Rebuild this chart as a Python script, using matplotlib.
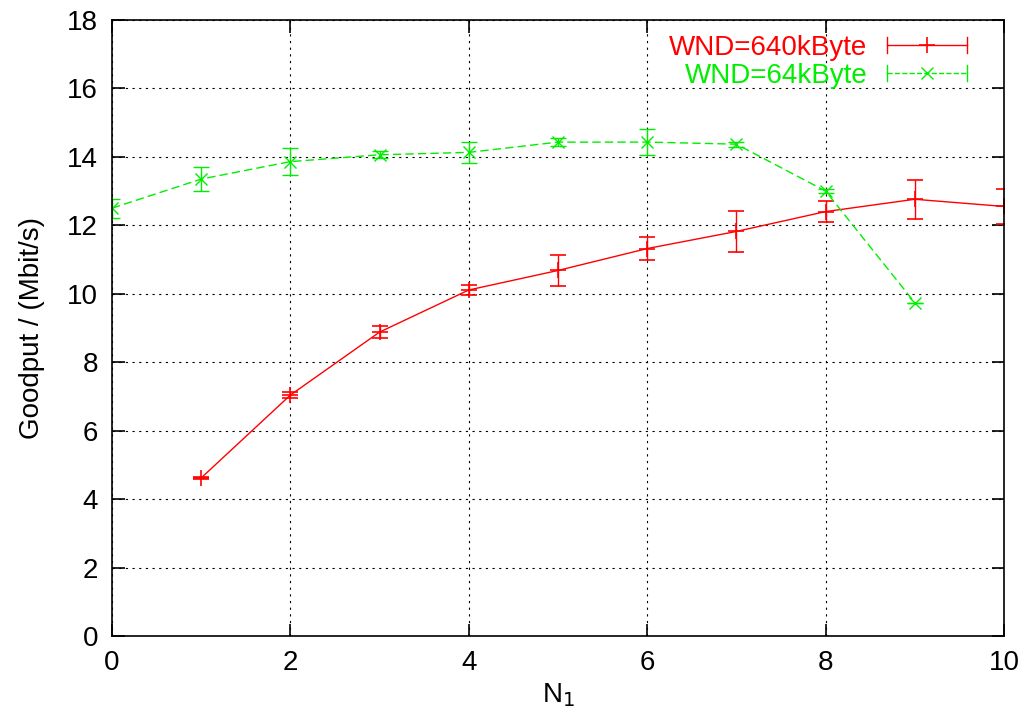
import matplotlib
matplotlib.use("Agg")
import matplotlib.pyplot as plt
from matplotlib.legend_handler import HandlerBase
from matplotlib.lines import Line2D

# Goodput vs N1 for two window sizes
n1_640 = [1, 2, 3, 4, 5, 6, 7, 8, 9, 10]
goodput_640 = [4.62, 7.04, 8.88, 10.11, 10.68, 11.32, 11.82, 12.40, 12.76, 12.55]
err_640 = [0.03, 0.08, 0.18, 0.16, 0.44, 0.34, 0.60, 0.30, 0.57, 0.50]

n1_64 = [0, 1, 2, 3, 4, 5, 6, 7, 8, 9]
goodput_64 = [12.50, 13.35, 13.86, 14.06, 14.13, 14.43, 14.43, 14.37, 13.00, 9.74]
err_64 = [0.28, 0.34, 0.40, 0.10, 0.30, 0.12, 0.37, 0.07, 0.05, 0.0]

plt.rcParams["font.family"] = ["Liberation Sans", "DejaVu Sans"]


class HorizontalErrorHandler(HandlerBase):
    """gnuplot-like key sample: horizontal bar with end caps and marker in middle."""

    def create_artists(self, legend, orig_handle, xdescent, ydescent,
                       width, height, fontsize, trans):
        c = orig_handle.get_color()
        ls = orig_handle.get_linestyle()
        y = height / 2 - ydescent
        x0, x1 = -xdescent, width - xdescent
        cap = height * 0.4
        line = Line2D([x0, x1], [y, y], color=c, lw=1.0, ls=ls, transform=trans)
        c0 = Line2D([x0, x0], [y - cap, y + cap], color=c, lw=1.0, transform=trans)
        c1 = Line2D([x1, x1], [y - cap, y + cap], color=c, lw=1.0, transform=trans)
        mk = Line2D([(x0 + x1) / 2], [y], color=c, ls="none",
                    marker=orig_handle.get_marker(), ms=orig_handle.get_markersize(),
                    mew=orig_handle.get_markeredgewidth(), transform=trans)
        return [line, c0, c1, mk]


fig = plt.figure(figsize=(10.23, 7.24), dpi=100)
ax = fig.add_axes([0.1095, 0.1215, 0.8719, 0.851])

red = "#ff0000"
green = "#00ee00"

ax.errorbar(n1_640, goodput_640, yerr=err_640, color=red, lw=1.0,
            marker="+", ms=11, mew=1.2, capsize=6, elinewidth=1.0)
ax.errorbar(n1_64, goodput_64, yerr=err_64, color=green, lw=1.0, ls=(0, (6, 3)),
            marker="x", ms=9, mew=1.0, capsize=6, elinewidth=1.0)

ax.set_xlim(0, 10)
ax.set_ylim(0, 18)
ax.set_xticks(range(0, 11, 2))
ax.set_yticks(range(0, 19, 2))
ax.grid(True, color="black", ls=(0, (2, 4)), lw=0.8)
ax.tick_params(direction="in", top=True, right=True, length=9, width=1.2,
               labelsize=20, pad=10)
for s in ax.spines.values():
    s.set_linewidth(1.2)

ax.set_xlabel("N$_1$", fontsize=20, labelpad=4)
ax.set_ylabel("Goodput / (Mbit/s)", fontsize=20, labelpad=16)

h_640 = Line2D([], [], color=red, lw=1.0, marker="+", ms=11, mew=1.2)
h_64 = Line2D([], [], color=green, lw=1.0, ls=(0, (6, 3)), marker="x", ms=9, mew=1.0)
leg = ax.legend([h_640, h_64], ["WND=640kByte", "WND=64kByte"],
                handler_map={Line2D: HorizontalErrorHandler()},
                loc="upper right", bbox_to_anchor=(0.965, 0.985),
                frameon=False, markerfirst=False,
                fontsize=20, handlelength=2.9, handletextpad=0.7,
                labelspacing=0.08, borderaxespad=0.0, borderpad=0.2)
for text, c in zip(leg.get_texts(), [red, green]):
    text.set_color(c)

fig.savefig("out.png", dpi=100)
